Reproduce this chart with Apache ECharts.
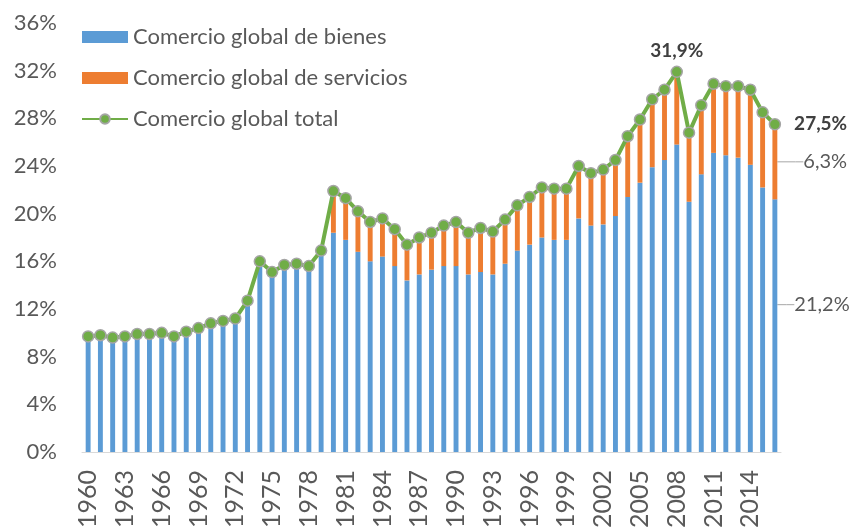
<!DOCTYPE html>
<html>
<head>
<meta charset="utf-8">
<script src="https://cdn.jsdelivr.net/npm/echarts@6/dist/echarts.min.js"></script>
<style>
  html, body { margin: 0; padding: 0; background: #fff; }
  #chart { width: 852px; height: 531px; }
</style>
</head>
<body>
<div id="chart"></div>
<script>
// años 1960-2016
const years = []
for (let y = 1960; y <= 2016; y++) years.push(String(y))

// % del PIB mundial
const bienes = [
  9.7, 9.8, 9.6, 9.7, 9.9, 9.9, 10.0, 9.7, 10.1, 10.4,
  10.8, 11.0, 11.2, 12.7, 16.0, 15.1, 15.7, 15.8, 15.6, 16.9,
  18.4, 17.8, 16.8, 16.0, 16.4, 15.6, 14.4, 14.9, 15.3, 15.6,
  15.6, 14.9, 15.1, 14.9, 15.8, 16.9, 17.4, 18.0, 17.8, 17.8,
  19.6, 19.0, 19.1, 19.8, 21.4, 22.6, 23.9, 24.5, 25.8, 21.0,
  23.3, 25.1, 24.9, 24.7, 24.1, 22.2, 21.2
]
const servicios = [
  null, null, null, null, null, null, null, null, null, null,
  null, null, null, null, null, null, null, null, null, null,
  3.5, 3.5, 3.4, 3.3, 3.2, 3.1, 3.0, 3.1, 3.1, 3.4,
  3.7, 3.5, 3.7, 3.6, 3.7, 3.8, 4.0, 4.2, 4.3, 4.3,
  4.4, 4.4, 4.6, 4.7, 5.1, 5.3, 5.7, 5.9, 6.1, 5.8,
  5.8, 5.8, 5.8, 6.0, 6.3, 6.3, 6.3
]
const total = [
  9.7, 9.8, 9.6, 9.7, 9.9, 9.9, 10.0, 9.7, 10.1, 10.4,
  10.8, 11.0, 11.2, 12.7, 16.0, 15.1, 15.7, 15.8, 15.6, 16.9,
  21.9, 21.3, 20.2, 19.3, 19.6, 18.7, 17.4, 18.0, 18.4, 19.0,
  19.3, 18.4, 18.8, 18.5, 19.5, 20.7, 21.4, 22.2, 22.1, 22.1,
  24.0, 23.4, 23.7, 24.5, 26.5, 27.9, 29.6, 30.4, 31.9, 26.8,
  29.1, 30.9, 30.7, 30.7, 30.4, 28.5, 27.5
]
const yTicks = { min: 0, max: 36, step: 4 }

const FONT = 'Lato'
const txtColor = '#595959'
const fmt = v => v.toFixed(1).replace('.', ',') + '%'
const last = years.length - 1
const peak = years.indexOf('2008')

const withLabel = (arr, idxs, label) => arr.map((v, i) =>
  idxs.includes(i) ? { value: v, label: Object.assign({ show: true }, label) } : v
)

const chart = echarts.init(document.getElementById('chart'))

chart.setOption({
  animation: false,
  textStyle: { fontFamily: FONT },
  grid: { left: 82, right: 71, top: 23, bottom: 76 },
  legend: {
    orient: 'vertical',
    left: 81,
    top: 26,
    padding: 0,
    itemWidth: 46,
    itemHeight: 12,
    itemGap: 19,
    textStyle: { fontFamily: FONT, fontSize: 22, color: txtColor },
    data: [
      { name: 'Comercio global de bienes', icon: 'rect' },
      { name: 'Comercio global de servicios', icon: 'rect' },
      { name: 'Comercio global total' }
    ]
  },
  xAxis: {
    type: 'category',
    data: years,
    axisTick: { show: false },
    axisLine: { lineStyle: { color: '#D9D9D9', width: 1 } },
    axisLabel: {
      rotate: 90,
      interval: 2,
      margin: 18,
      fontFamily: FONT,
      fontSize: 25,
      color: txtColor
    }
  },
  yAxis: {
    type: 'value',
    min: yTicks.min,
    max: yTicks.max,
    interval: yTicks.step,
    splitLine: { show: false },
    axisLine: { show: false },
    axisTick: { show: false },
    axisLabel: {
      formatter: '{value}%',
      margin: 25,
      fontFamily: FONT,
      fontSize: 22,
      color: txtColor
    }
  },
  series: [
    {
      name: 'Comercio global de bienes',
      type: 'bar',
      stack: 'comercio',
      barWidth: '40%',
      itemStyle: { color: '#5B9BD5' },
      data: withLabel(bienes, [last], {
        position: 'right',
        distance: 17,
        formatter: p => fmt(p.value),
        fontFamily: FONT,
        fontSize: 20,
        color: txtColor
      }),
      labelLayout: { dy: -21 },
      labelLine: { show: true, length2: 8, lineStyle: { color: '#A6A6A6', width: 1 } }
    },
    {
      name: 'Comercio global de servicios',
      type: 'bar',
      stack: 'comercio',
      barWidth: '40%',
      itemStyle: { color: '#ED7D31' },
      data: withLabel(servicios, [last], {
        position: 'right',
        distance: 26,
        formatter: p => fmt(p.value),
        fontFamily: FONT,
        fontSize: 20,
        color: txtColor
      }),
      labelLayout: { dy: 0 },
      labelLine: { show: true, length2: 8, lineStyle: { color: '#A6A6A6', width: 1 } }
    },
    {
      name: 'Comercio global total',
      type: 'line',
      symbol: 'circle',
      symbolSize: 11,
      showAllSymbol: true,
      z: 5,
      lineStyle: { color: '#70AD47', width: 4 },
      itemStyle: { color: '#70AD47', borderColor: '#A5A5A5', borderWidth: 1.5 },
      data: withLabel(total, [peak, last], {
        fontFamily: FONT,
        fontSize: 19,
        fontWeight: 'bold',
        color: '#404040',
        formatter: p => fmt(p.value)
      }).map((d, i) => {
        if (i === peak) d.label.position = 'top', d.label.distance = 5
        if (i === last) d.label.position = 'right', d.label.distance = 13
        return d
      })
    }
  ]
})
</script>
</body>
</html>
